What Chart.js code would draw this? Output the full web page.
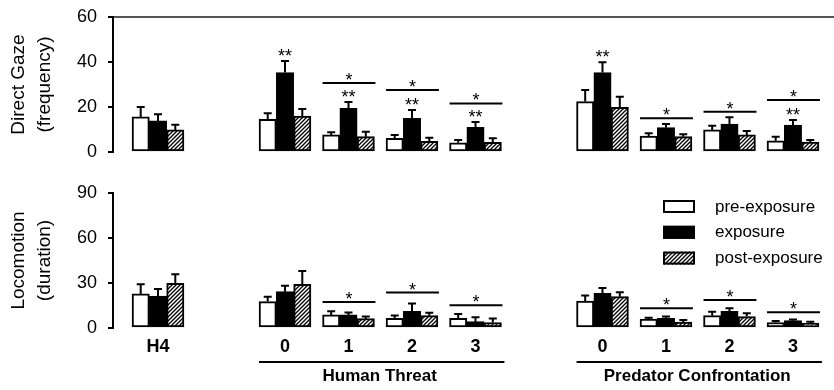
<!DOCTYPE html>
<html>
<head>
<meta charset="utf-8">
<script src="https://cdn.jsdelivr.net/npm/chart.js@4.4.0/dist/chart.umd.min.js"></script>
<style>
  html, body { margin: 0; padding: 0; background: #fff; overflow: hidden; }
  #gaze { position: absolute; left: 0; top: 0; }
  #loco { position: absolute; left: 0; top: 165px; }
</style>
</head>
<body>
<canvas id="gaze" width="834" height="165"></canvas>
<canvas id="loco" width="834" height="225"></canvas>
<script>
// categorias e posição (slot) de cada grupo no eixo x
const categories = ['H4', '0', '1', '2', '3', '0', '1', '2', '3'];
const slots = [1, 3, 4, 5, 6, 8, 9, 10, 11];
const seriesNames = ['pre-exposure', 'exposure', 'post-exposure'];
const sections = ['Human Threat', 'Predator Confrontation'];
const sectionFirst = [1, 5];
const sectionLast = [4, 8];

// Direct Gaze (frequency)
const gazeTicks = [0, 20, 40, 60];
const gazePre  = [15.6, 14.5, 7.6, 6.1, 4.1, 22.4, 7.1, 9.8, 5.0];
const gazeExp  = [13.8, 35.3, 19.4, 15.0, 11.0, 35.3, 10.8, 12.4, 12.0];
const gazePost = [9.8, 16.0, 6.8, 4.7, 4.3, 19.9, 6.8, 7.6, 4.4];
const gazePreErr  = [4.4, 2.7, 1.2, 1.5, 1.2, 5.2, 1.2, 1.9, 1.8];
const gazeExpErr  = [3.0, 5.2, 2.8, 3.7, 2.3, 4.6, 1.6, 3.0, 2.2];
const gazePostErr = [2.3, 3.1, 2.2, 1.6, 1.8, 4.7, 1.1, 1.7, 0.9];
const gazeDoubleStar = [false, true, true, true, true, true, false, false, true];
const gazeSigLine = [null, null, 30.7, 27.6, 21.6, null, 15.0, 17.9, 23.1];

// Locomotion (duration)
const locoTicks = [0, 30, 60, 90];
const locoPre  = [22.7, 17.6, 8.7, 6.4, 6.4, 18.0, 6.0, 8.2, 3.6];
const locoExp  = [21.3, 24.2, 8.7, 11.1, 4.2, 23.1, 6.4, 11.1, 4.9];
const locoPost = [29.8, 29.1, 6.2, 8.2, 3.6, 20.9, 4.0, 7.6, 3.3];
const locoPreErr  = [6.4, 3.3, 2.4, 2.0, 2.9, 3.6, 0.9, 2.7, 1.1];
const locoExpErr  = [4.7, 4.0, 1.7, 5.3, 2.9, 3.6, 1.2, 2.0, 0.7];
const locoPostErr = [6.0, 8.9, 1.4, 2.0, 2.8, 2.9, 1.3, 2.2, 0.9];
const locoDoubleStar = [false, false, false, false, false, false, false, false, false];
const locoSigLine = [null, null, 17.3, 23.6, 15.1, null, 13.1, 18.7, 10.5];

const FONT = '"Liberation Sans", Arial, Helvetica, sans-serif';

// padrão hachurado para post-exposure
function criarHachura() {
  const c = document.createElement('canvas');
  c.width = 4; c.height = 4;
  const g = c.getContext('2d');
  g.fillStyle = '#fff';
  g.fillRect(0, 0, 4, 4);
  g.strokeStyle = '#000';
  g.lineWidth = 1.3;
  g.beginPath();
  g.moveTo(0, 4); g.lineTo(4, 0);
  g.moveTo(-1, 1); g.lineTo(1, -1);
  g.moveTo(3, 5); g.lineTo(5, 3);
  g.stroke();
  return g.createPattern(c, 'repeat');
}
const hachura = criarHachura();
const fills = ['#fff', '#000', hachura];

function pontos(vals) {
  return vals.map((v, i) => ({ x: slots[i], y: v }));
}

function datasets(pre, exp, post) {
  return [pre, exp, post].map((vals, d) => ({
    label: seriesNames[d],
    data: pontos(vals),
    backgroundColor: fills[d],
    borderColor: '#000',
    borderWidth: 2,
    borderSkipped: false,
    barThickness: 17.3
  }));
}

// barras de erro, asteriscos e linhas de significância
function marcas(errs, stars, sigLines) {
  return {
    id: 'marcas',
    afterDatasetsDraw(chart) {
      const ctx = chart.ctx;
      const y = chart.scales.y;
      const ds = chart.data.datasets;
      ctx.save();
      ctx.strokeStyle = '#000';
      ctx.fillStyle = '#000';
      ctx.lineWidth = 2;
      ds.forEach((d, k) => {
        chart.getDatasetMeta(k).data.forEach((bar, i) => {
          const top = y.getPixelForValue(d.data[i].y + errs[k][i]);
          ctx.beginPath();
          ctx.moveTo(bar.x, bar.y);
          ctx.lineTo(bar.x, top);
          ctx.moveTo(bar.x - 4, top);
          ctx.lineTo(bar.x + 4, top);
          ctx.stroke();
        });
      });
      const pre = chart.getDatasetMeta(0).data;
      const exp = chart.getDatasetMeta(1).data;
      const post = chart.getDatasetMeta(2).data;
      ctx.font = '18px ' + FONT;
      ctx.textAlign = 'center';
      ctx.textBaseline = 'alphabetic';
      categories.forEach((c, i) => {
        if (stars[i]) {
          const top = y.getPixelForValue(ds[1].data[i].y + errs[1][i]);
          ctx.fillText('**', exp[i].x, top + 1);
        }
        if (sigLines[i] != null) {
          const ly = y.getPixelForValue(sigLines[i]);
          const l = pre[i].x - pre[i].width / 2;
          const r = post[i].x + post[i].width / 2 + 1;
          ctx.beginPath();
          ctx.moveTo(l, ly);
          ctx.lineTo(r, ly);
          ctx.stroke();
          ctx.fillText('*', (l + r) / 2, ly + 3);
        }
      });
      ctx.restore();
    }
  };
}

// linhas e nomes das condições embaixo do eixo x
const secoes = {
  id: 'secoes',
  afterDraw(chart) {
    const ctx = chart.ctx;
    const pre = chart.getDatasetMeta(0).data;
    const post = chart.getDatasetMeta(2).data;
    const base = chart.chartArea.bottom;
    ctx.save();
    ctx.strokeStyle = '#000';
    ctx.fillStyle = '#000';
    ctx.lineWidth = 2;
    ctx.font = 'bold 17px ' + FONT;
    ctx.textAlign = 'center';
    ctx.textBaseline = 'middle';
    sections.forEach((nome, s) => {
      const a = pre[sectionFirst[s]], b = post[sectionLast[s]];
      const l = a.x - a.width / 2;
      const r = b.x + b.width / 2 + 3;
      ctx.beginPath();
      ctx.moveTo(l, base + 34);
      ctx.lineTo(r, base + 34);
      ctx.stroke();
      ctx.fillText(nome, (l + r) / 2 - 2, base + 48);
    });
    ctx.restore();
  }
};

// legenda desenhada dentro do gráfico de baixo
const legenda = {
  id: 'legenda',
  afterDraw(chart) {
    const ctx = chart.ctx;
    const x0 = chart.chartArea.right - 171;
    const y0 = chart.chartArea.top + 7;
    ctx.save();
    ctx.font = '17px ' + FONT;
    ctx.textAlign = 'left';
    ctx.textBaseline = 'middle';
    chart.data.datasets.forEach((d, k) => {
      const yy = y0 + k * 25.8;
      ctx.fillStyle = d.backgroundColor;
      ctx.fillRect(x0, yy, 32, 13);
      ctx.strokeStyle = '#000';
      ctx.lineWidth = 2;
      ctx.strokeRect(x0 + 1, yy + 1, 30, 11);
      ctx.fillStyle = '#000';
      ctx.fillText(d.label, x0 + 52, yy + 7);
    });
    ctx.restore();
  }
};

function eixoY(ticks, titulo, linhaTopo) {
  const max = ticks[ticks.length - 1];
  return {
    min: 0,
    max: max,
    afterBuildTicks: s => { s.ticks = ticks.map(v => ({ value: v })); },
    afterFit: s => {
      s.width = 113;
      // sem folga extra dos rótulos: a área do gráfico vem só do layout.padding
      s.paddingTop = 0;
      s.paddingBottom = 0;
    },
    ticks: { color: '#000', font: { family: FONT, size: 18 }, padding: 11 },
    grid: {
      color: c => (linhaTopo && c.tick && c.tick.value === max) ? '#555' : 'rgba(0,0,0,0)',
      lineWidth: 2,
      tickColor: '#000',
      tickLength: 5,
      tickWidth: 2
    },
    border: { color: '#000', width: 2 },
    title: {
      display: true,
      text: titulo,
      color: '#000',
      font: { family: FONT, size: 19, lineHeight: 1.37 },
      padding: { top: 6, bottom: 0 }
    }
  };
}

const xMin = 0.2913;
const xMax = 11.646;

new Chart(document.getElementById('gaze'), {
  type: 'bar',
  data: { datasets: datasets(gazePre, gazeExp, gazePost) },
  options: {
    responsive: false,
    animation: false,
    events: [],
    layout: { padding: { top: 17, bottom: 13, left: 0, right: 0 } },
    plugins: { legend: { display: false }, tooltip: { enabled: false } },
    scales: {
      x: { type: 'linear', min: xMin, max: xMax, offset: false, display: false },
      y: eixoY(gazeTicks, ['Direct Gaze', '(frequency)'], true)
    }
  },
  plugins: [marcas([gazePreErr, gazeExpErr, gazePostErr], gazeDoubleStar, gazeSigLine)]
});

new Chart(document.getElementById('loco'), {
  type: 'bar',
  data: { datasets: datasets(locoPre, locoExp, locoPost) },
  options: {
    responsive: false,
    animation: false,
    events: [],
    layout: { padding: { top: 28, bottom: 0, left: 0, right: 0 } },
    plugins: { legend: { display: false }, tooltip: { enabled: false } },
    scales: {
      x: {
        type: 'linear', min: xMin, max: xMax, offset: false,
        afterBuildTicks: s => { s.ticks = slots.map(v => ({ value: v })); },
        afterFit: s => { s.height = 62; },
        grid: { display: false, drawTicks: false },
        border: { display: false },
        ticks: {
          autoSkip: false, maxRotation: 0, padding: 8, color: '#000',
          font: { family: FONT, size: 18, weight: 'bold' },
          callback: (v, i) => categories[i]
        }
      },
      y: eixoY(locoTicks, ['Locomotion', '(duration)'], false)
    }
  },
  plugins: [marcas([locoPreErr, locoExpErr, locoPostErr], locoDoubleStar, locoSigLine), secoes, legenda]
});
</script>
</body>
</html>
